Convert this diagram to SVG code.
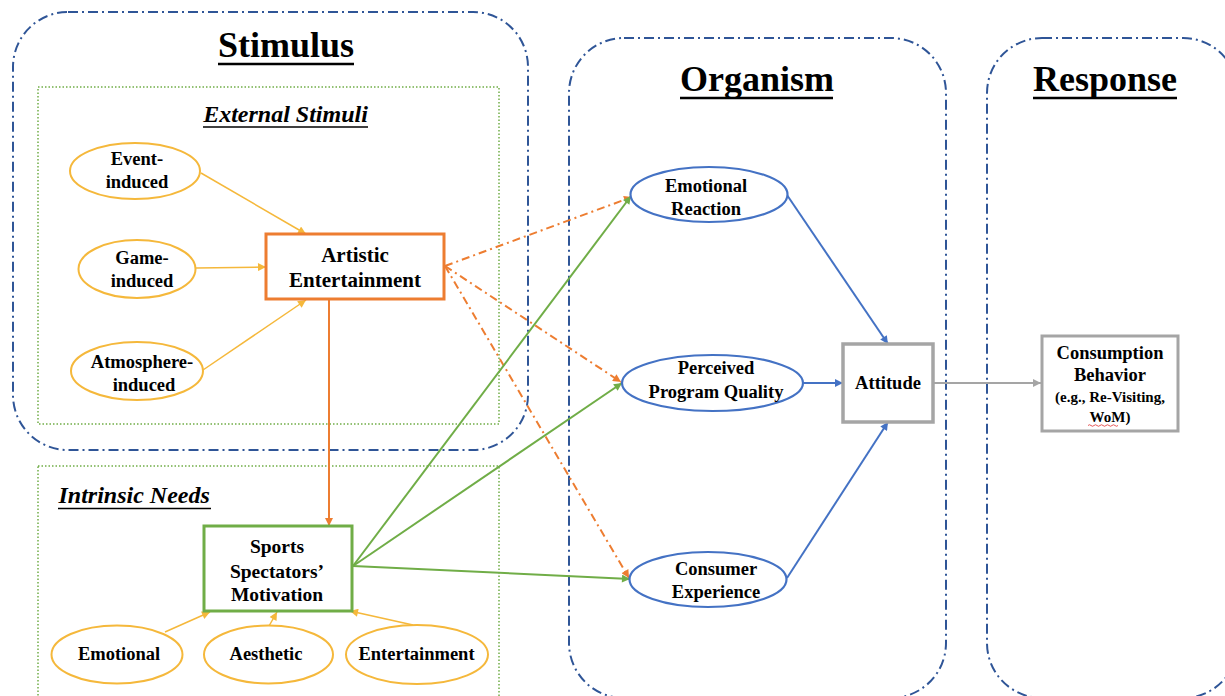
<svg xmlns="http://www.w3.org/2000/svg" width="1225" height="696" viewBox="0 0 1225 696">
<style>
text{font-family:"Liberation Serif","Times New Roman",serif;font-weight:bold;fill:#000;text-anchor:middle}
.title{font-size:36px}
.sub{font-size:24px;font-style:italic}
.n18{font-size:18.5px}
.n21{font-size:21px}
.n20{font-size:19.5px}
.n15{font-size:15px}
.sec{fill:none;stroke:#2F5597;stroke-width:2;stroke-dasharray:10 4 2 4}
.grp{fill:none;stroke:#70AD47;stroke-width:1.5;stroke-dasharray:1.5 2}
.yel{fill:#fff;stroke:#F5B83B;stroke-width:2}
.blu{fill:#fff;stroke:#4472C4;stroke-width:2.2}
.ul{stroke:#000}
.cy{stroke:#F5B83B;stroke-width:1.5;fill:none;marker-end:url(#ay)}
.co{stroke:#ED7D31;stroke-width:2;fill:none;marker-end:url(#ao)}
.cod{stroke:#ED7D31;stroke-width:2;fill:none;stroke-dasharray:8 4 2 4;marker-end:url(#ao)}
.cg{stroke:#70AD47;stroke-width:2;fill:none;marker-end:url(#ag)}
.cb{stroke:#4472C4;stroke-width:2;fill:none;marker-end:url(#ab)}
.cgr{stroke:#A5A5A5;stroke-width:2;fill:none;marker-end:url(#agr)}
</style>
<defs>
<marker id="ay" viewBox="0 0 10 10" refX="10" refY="5" markerWidth="9" markerHeight="8" markerUnits="userSpaceOnUse" orient="auto"><path d="M0,0 L10,5 L0,10 z" fill="#F5B83B"/></marker>
<marker id="ao" viewBox="0 0 10 10" refX="10" refY="5" markerWidth="10" markerHeight="8" markerUnits="userSpaceOnUse" orient="auto"><path d="M0,0 L10,5 L0,10 z" fill="#ED7D31"/></marker>
<marker id="ag" viewBox="0 0 10 10" refX="10" refY="5" markerWidth="10" markerHeight="8" markerUnits="userSpaceOnUse" orient="auto"><path d="M0,0 L10,5 L0,10 z" fill="#70AD47"/></marker>
<marker id="ab" viewBox="0 0 10 10" refX="10" refY="5" markerWidth="10" markerHeight="8" markerUnits="userSpaceOnUse" orient="auto"><path d="M0,0 L10,5 L0,10 z" fill="#4472C4"/></marker>
<marker id="agr" viewBox="0 0 10 10" refX="10" refY="5" markerWidth="10" markerHeight="8" markerUnits="userSpaceOnUse" orient="auto"><path d="M0,0 L10,5 L0,10 z" fill="#A5A5A5"/></marker>
</defs>
<rect width="1225" height="696" fill="#fff"/>

<g id="sections">
<rect class="sec" x="13" y="12" width="515" height="438" rx="55"/>
<rect class="sec" x="569" y="38" width="377" height="660" rx="55"/>
<rect class="sec" x="987" y="38" width="251" height="660" rx="55"/>
<rect class="grp" x="38" y="87" width="461" height="337"/>
<rect class="grp" x="38" y="466" width="461" height="240"/>
<text class="title" x="286" y="57">Stimulus</text>
<line class="ul" x1="218" y1="64" x2="354" y2="64" stroke-width="2.5"/>
<text class="title" x="757" y="91">Organism</text>
<line class="ul" x1="680" y1="98" x2="833" y2="98" stroke-width="2.5"/>
<text class="title" x="1105" y="91">Response</text>
<line class="ul" x1="1033" y1="98" x2="1177" y2="98" stroke-width="2.5"/>
<text class="sub" x="285.5" y="122">External Stimuli</text>
<line class="ul" x1="203" y1="127" x2="368" y2="127" stroke-width="1.5"/>
<text class="sub" x="58.5" y="503" style="text-anchor:start">Intrinsic Needs</text>
<line class="ul" x1="58" y1="508.5" x2="211" y2="508.5" stroke-width="1.5"/>
</g>

<g id="connectors">
<path class="cy" d="M201,173 L306,234"/>
<path class="cy" d="M196,268 L266,267"/>
<path class="cy" d="M203,370 L306,300"/>
<path class="cy" d="M165,632 L210,612"/>
<path class="cy" d="M269,626 L277,612"/>
<path class="cy" d="M413,625 L350,611"/>
<path class="co" d="M329,300 L329,526"/>
<path class="cod" d="M445,266 L632,197"/>
<path class="cod" d="M445,266 L621,382"/>
<path class="cod" d="M445,266 L629,578"/>
<path class="cg" d="M353,566 L631,196"/>
<path class="cg" d="M353,566 L622,383"/>
<path class="cg" d="M353,566 L630,579"/>
<path class="cb" d="M787,195 L888,344"/>
<path class="cb" d="M803,383 L843,383"/>
<path class="cb" d="M787,578 L888,422"/>
<path class="cgr" d="M934,383 L1041,383"/>
</g>

<g id="event-induced">
<ellipse class="yel" cx="135" cy="171" rx="65" ry="28"/>
<text class="n18" x="137" y="164.5">Event-</text>
<text class="n18" x="137" y="187.5">induced</text>
</g>
<g id="game-induced">
<ellipse class="yel" cx="137" cy="269" rx="58.5" ry="29"/>
<text class="n18" x="142" y="263.5">Game-</text>
<text class="n18" x="142" y="287">induced</text>
</g>
<g id="atmosphere-induced">
<ellipse class="yel" cx="137" cy="371" rx="66" ry="29"/>
<text class="n18" x="142" y="367.5">Atmosphere-</text>
<text class="n18" x="144" y="391">induced</text>
</g>
<g id="artistic-entertainment">
<rect x="266" y="234" width="178" height="65" fill="#fff" stroke="#ED7D31" stroke-width="3"/>
<text class="n21" x="355" y="262">Artistic</text>
<text class="n21" x="355" y="287">Entertainment</text>
</g>
<g id="sports-spectators-motivation">
<rect x="204" y="526" width="148" height="85" fill="#fff" stroke="#70AD47" stroke-width="3"/>
<text class="n20" x="277" y="553">Sports</text>
<text class="n20" x="277" y="577.5">Spectators’</text>
<text class="n20" x="277" y="601">Motivation</text>
</g>
<g id="emotional">
<ellipse class="yel" cx="117" cy="654.5" rx="65.5" ry="29"/>
<text class="n18" x="119" y="660">Emotional</text>
</g>
<g id="aesthetic">
<ellipse class="yel" cx="268.5" cy="654.5" rx="64.5" ry="29"/>
<text class="n18" x="266" y="660">Aesthetic</text>
</g>
<g id="entertainment">
<ellipse class="yel" cx="417" cy="654.5" rx="71" ry="29.5"/>
<text class="n18" x="416.5" y="660">Entertainment</text>
</g>
<g id="emotional-reaction">
<ellipse class="blu" cx="709" cy="194.5" rx="78.5" ry="27.5"/>
<text class="n18" x="706" y="192">Emotional</text>
<text class="n18" x="706" y="215">Reaction</text>
</g>
<g id="perceived-program-quality">
<ellipse class="blu" cx="712.5" cy="383" rx="90.5" ry="28"/>
<text class="n18" x="716" y="374">Perceived</text>
<text class="n18" x="716" y="398">Program Quality</text>
</g>
<g id="consumer-experience">
<ellipse class="blu" cx="708" cy="579.5" rx="78.5" ry="27.5"/>
<text class="n18" x="716" y="575">Consumer</text>
<text class="n18" x="716" y="598">Experience</text>
</g>
<g id="attitude">
<rect x="843" y="344" width="90" height="78" fill="#fff" stroke="#A5A5A5" stroke-width="3.5"/>
<text class="n18" x="888" y="389">Attitude</text>
</g>
<g id="consumption-behavior">
<rect x="1042" y="336" width="136" height="95" fill="#fff" stroke="#A5A5A5" stroke-width="3"/>
<text class="n18" x="1110" y="359">Consumption</text>
<text class="n18" x="1110" y="381">Behavior</text>
<text class="n15" x="1110" y="402">(e.g., Re-Visiting,</text>
<text class="n15" x="1110" y="422">WoM)</text>
<path d="M1088,425.5 q1.5,-1.5 3,0 t3,0 t3,0 t3,0 t3,0 t3,0 t3,0 t3,0 t3,0 t3,0" fill="none" stroke="#E03030" stroke-width="0.8"/>
</g>
</svg>
